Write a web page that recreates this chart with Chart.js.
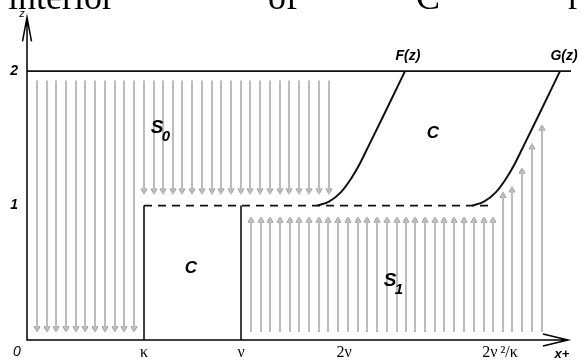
<!DOCTYPE html>
<html>
<head>
<meta charset="utf-8">
<script src="https://cdn.jsdelivr.net/npm/chart.js@4.4.0/dist/chart.umd.min.js"></script>
<style>
  html, body { margin: 0; padding: 0; background: #fff; }
</style>
</head>
<body>
<canvas id="diagram" width="582" height="363"></canvas>
<script>
// x in diagram units (0 = origin), z in levels
const xTickValues = [11.7, 21.4, 31.7, 47.3];
const xTickLabels = ['κ', 'ν', '2ν', '2ν\u2009²/κ'];
const zTickValues = [1, 2];
const zTickLabels = ['1', '2'];

const kappaX = 11.7;
const nuX = 21.4;
const topLineX = [0, 54.4];
const dashedLineX = [11.7, 46.6];

// F(z) and G(z) boundaries
const curveFX = [29.0, 30.2, 31.4, 32.4, 33.2, 34.2, 35.85, 37.8];
const curveFZ = [1.0, 1.03, 1.1, 1.2, 1.3, 1.45, 1.7, 2.0];
const curveGX = [44.5, 45.7, 46.9, 47.9, 48.7, 49.7, 51.35, 53.3];
const curveGZ = [1.0, 1.03, 1.1, 1.2, 1.3, 1.45, 1.7, 2.0];

// S0 flow (downward arrows)
const downLongX = [1.0, 2.0, 2.9, 3.9, 4.9, 5.8, 6.8, 7.8, 8.8, 9.7, 10.7];
const downShortX = [11.7, 12.7, 13.6, 14.6, 15.5, 16.5, 17.5, 18.5, 19.4, 20.4,
                    21.4, 22.3, 23.3, 24.3, 25.3, 26.2, 27.2, 28.2, 29.2, 30.2];
const downTop = 1.93;
const downLongEnd = 0.06;
const downShortEnd = 1.085;

// S1 flow (upward arrows)
const upX = [22.4, 23.4, 24.3, 25.3, 26.3, 27.2, 28.2, 29.2, 30.1, 31.1, 32.1, 33.1, 34.0,
             35.0, 36.0, 37.0, 37.9, 38.8, 39.8, 40.8, 41.7, 42.7, 43.7, 44.7, 45.7, 46.6];
const upTallX = [47.6, 48.5, 49.5, 50.5, 51.5];
const upTallTop = [1.10, 1.14, 1.28, 1.46, 1.60];
const upBottom = 0.06;
const upTop = 0.915;

const ARROW = '#bcbcbc';
const HEAD_OFF = 0.026;

function shaftPoints(xs, from, to) {
  const pts = [];
  xs.forEach((x, i) => {
    const t = Array.isArray(to) ? to[i] : to;
    pts.push({ x: x, y: from }, { x: x, y: t }, { x: x, y: null });
  });
  return pts;
}

function headPoints(xs, tip, dir) {
  return xs.map((x, i) => {
    const t = Array.isArray(tip) ? tip[i] : tip;
    return { x: x, y: t + dir * HEAD_OFF };
  });
}

function lineSet(data, color, width, dash) {
  return {
    type: 'line', data: data, borderColor: color, borderWidth: width,
    borderDash: dash || [], pointRadius: 0, fill: false, tension: 0, clip: false, spanGaps: false
  };
}

function curveSet(xs, zs) {
  const ds = lineSet(xs.map((x, i) => ({ x: x, y: zs[i] })), '#111', 2);
  ds.cubicInterpolationMode = 'monotone';
  return ds;
}

function headSet(data, rotation) {
  return {
    type: 'scatter', data: data, pointStyle: 'triangle', rotation: rotation,
    pointRadius: 3.5, backgroundColor: '#d4d4d4', borderColor: '#9c9c9c', borderWidth: 1, clip: false
  };
}

const datasets = [
  lineSet(shaftPoints(downLongX, downTop, downLongEnd), ARROW, 2),
  lineSet(shaftPoints(downShortX, downTop, downShortEnd), ARROW, 2),
  lineSet(shaftPoints(upX, upBottom, upTop), ARROW, 2),
  lineSet(shaftPoints(upTallX, upBottom, upTallTop), ARROW, 2),
  headSet(headPoints(downLongX, downLongEnd, 1), 180),
  headSet(headPoints(downShortX, downShortEnd, 1), 180),
  headSet(headPoints(upX, upTop, -1), 0),
  headSet(headPoints(upTallX, upTallTop, -1), 0),
  lineSet(topLineX.map(x => ({ x: x, y: 2 })), '#111', 1.8),
  lineSet(dashedLineX.map(x => ({ x: x, y: 1 })), '#111', 1.8, [8, 6]),
  lineSet([{ x: kappaX, y: 0 }, { x: kappaX, y: 1 }], '#111', 1.6),
  lineSet([{ x: nuX, y: 0 }, { x: nuX, y: 1 }], '#111', 1.6),
  curveSet(curveFX, curveFZ),
  curveSet(curveGX, curveGZ)
];

// labels placed in data units
const regionLabels = [
  { text: 'S', sub: '0', x: 13.0, z: 1.58, size: 19 },
  { text: 'C', x: 40.6, z: 1.54 },
  { text: 'C', x: 16.4, z: 0.53 },
  { text: 'S', sub: '1', x: 36.3, z: 0.44, size: 19 },
  { text: 'F(z)', x: 38.1, z: 2.11, size: 14 },
  { text: 'G(z)', x: 53.7, z: 2.11, size: 14 }
];

const decorPlugin = {
  id: 'decor',
  afterDatasetsDraw(chart) {
    const { ctx, chartArea: a, scales: { x, y } } = chart;
    ctx.save();
    // axes and arrowheads
    ctx.strokeStyle = '#000';
    ctx.lineWidth = 1.5;
    ctx.beginPath();
    ctx.moveTo(a.left - 4.5, a.top + 24);
    ctx.lineTo(a.left, a.top);
    ctx.lineTo(a.left + 4.5, a.top + 24);
    ctx.moveTo(a.right - 25, a.bottom - 6);
    ctx.lineTo(a.right, a.bottom);
    ctx.lineTo(a.right - 25, a.bottom + 6);
    ctx.moveTo(a.left, a.top);
    ctx.lineTo(a.left, a.bottom);
    ctx.lineTo(a.right, a.bottom);
    ctx.stroke();

    ctx.fillStyle = '#000';
    ctx.textAlign = 'center';
    ctx.textBaseline = 'middle';
    regionLabels.forEach(l => {
      const px = x.getPixelForValue(l.x);
      const py = y.getPixelForValue(l.z);
      ctx.font = 'italic bold ' + (l.size || 17) + 'px "Liberation Sans"';
      ctx.fillText(l.text, px, py);
      if (l.sub) {
        ctx.font = 'italic bold 15px "Liberation Sans"';
        ctx.fillText(l.sub, px + 9, py + 9);
      }
    });

    ctx.font = 'italic 11px "Liberation Sans"';
    ctx.fillText('z', a.left - 5, a.top - 3);
    ctx.font = 'italic 14px "Liberation Sans"';
    ctx.fillText('0', a.left - 10, a.bottom + 12);
    ctx.font = 'italic bold 13px "Liberation Sans"';
    ctx.fillText('x+', a.right - 6, a.bottom + 14);

    // clipped running text above the figure
    ctx.font = '36px "Liberation Serif"';
    ctx.textAlign = 'left';
    ctx.textBaseline = 'alphabetic';
    ctx.fillText('interior', 8, 9);
    ctx.fillText('of', 268, 9);
    ctx.fillText('C', 416, 9);
    ctx.fillText('r', 568, 9);
    ctx.restore();
  }
};

new Chart(document.getElementById('diagram'), {
  data: { datasets: datasets },
  plugins: [decorPlugin],
  options: {
    responsive: false,
    animation: false,
    devicePixelRatio: 1,
    layout: { padding: { left: 0, top: 15, right: 14, bottom: 0 } },
    plugins: { legend: { display: false }, tooltip: { enabled: false } },
    scales: {
      x: {
        type: 'linear', min: 0, max: 54.1,
        grid: { display: false, drawTicks: false },
        border: { display: false },
        afterFit: s => { s.height = 23; },
        afterBuildTicks: s => { s.ticks = xTickValues.map(v => ({ value: v })); },
        ticks: {
          autoSkip: false, maxRotation: 0, padding: 3, color: '#000',
          font: { family: '"Liberation Serif"', size: 16 },
          callback: v => xTickLabels[xTickValues.indexOf(v)]
        }
      },
      y: {
        type: 'linear', min: 0, max: 2.4,
        grid: { display: false, drawTicks: false },
        border: { display: false },
        afterFit: s => { s.width = 27; },
        afterBuildTicks: s => { s.ticks = zTickValues.map(v => ({ value: v })); },
        ticks: {
          padding: 9, color: '#000',
          font: { family: '"Liberation Sans"', size: 14, style: 'italic', weight: 'bold' },
          callback: v => zTickLabels[zTickValues.indexOf(v)]
        }
      }
    }
  }
});
</script>
</body>
</html>
